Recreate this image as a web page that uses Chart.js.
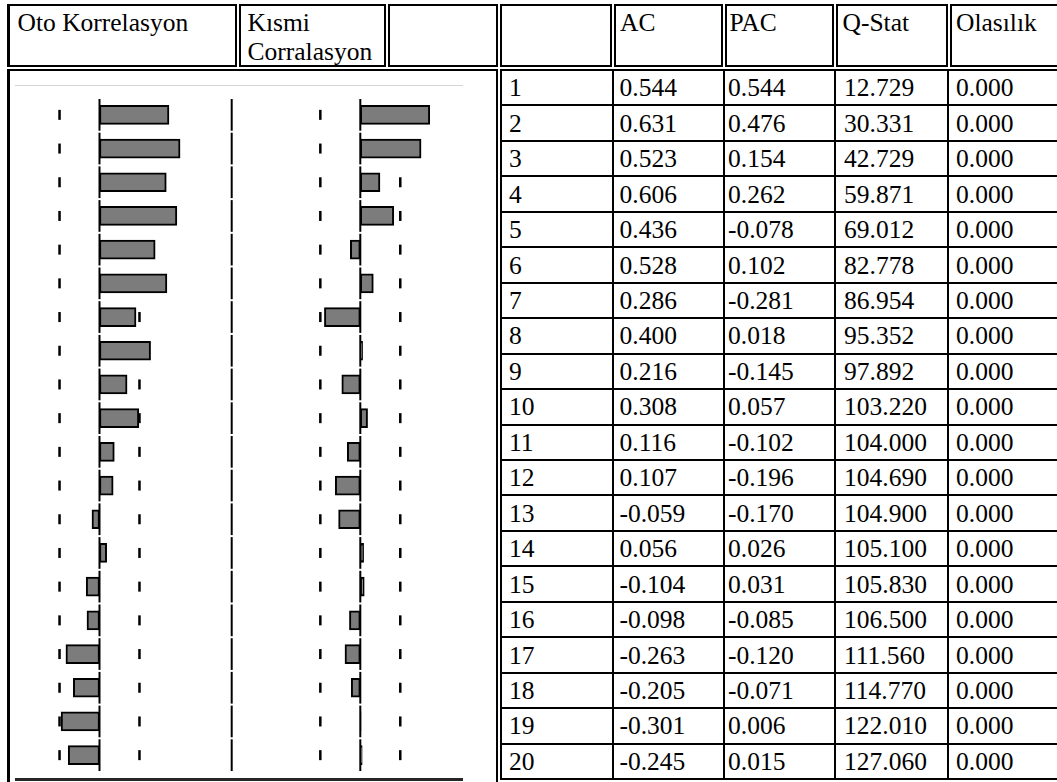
<!DOCTYPE html>
<html>
<head>
<meta charset="utf-8">
<title>Korelogram</title>
<script src="https://cdn.jsdelivr.net/npm/chart.js@4.4.1/dist/chart.umd.min.js"></script>
<style>
  html, body { margin: 0; padding: 0; background: #fff; }
  body {
    width: 1057px; height: 782px; position: relative; overflow: hidden;
    font-family: "Liberation Serif", "Times New Roman", serif;
    font-size: 25.5px; color: #000;
  }
  .box { position: absolute; box-sizing: border-box; border: 2px solid #000; }
  .hl { position: absolute; height: 2px; background: #000; }
  .vl { position: absolute; width: 2px; background: #000; }
  .head { position: absolute; white-space: nowrap; line-height: 29px; }
  .cell { position: absolute; white-space: nowrap; }
  #imgTop { position: absolute; left: 15px; top: 85px; width: 448px; height: 1px; background: #d4d4d4; }
  #imgBottom { position: absolute; left: 15px; top: 778px; width: 448px; height: 3px; background: #262626; }
  #corr { position: absolute; left: 15px; top: 98px; }
</style>
</head>
<body>

<!-- header cells (double ruled) -->
<div class="box" style="left:7px;top:4px;width:230px;height:63px;border-left-width:3px;"></div>
<div class="box" style="left:239px;top:4px;width:147px;height:63px;"></div>
<div class="box" style="left:388px;top:4px;width:110px;height:63px;"></div>
<div class="box" style="left:500px;top:4px;width:112px;height:63px;"></div>
<div class="box" style="left:614px;top:4px;width:109px;height:63px;"></div>
<div class="box" style="left:725px;top:4px;width:109px;height:63px;"></div>
<div class="box" style="left:836px;top:4px;width:112px;height:63px;"></div>
<div class="box" style="left:950px;top:4px;width:130px;height:63px;"></div>

<!-- body cell holding the correlogram -->
<div class="box" style="left:7px;top:69px;width:491px;height:760px;border-left-width:3px;"></div>
<div id="imgTop"></div>
<div id="imgBottom"></div>
<canvas id="corr" width="448" height="674"></canvas>

<div id="table"></div>

<script>
// Lags and correlogram statistics
const lags = ["1","2","3","4","5","6","7","8","9","10","11","12","13","14","15","16","17","18","19","20"];
const acValues  = [0.544, 0.631, 0.523, 0.606, 0.436, 0.528, 0.286, 0.400, 0.216, 0.308,
                   0.116, 0.107, -0.059, 0.056, -0.104, -0.098, -0.263, -0.205, -0.301, -0.245];
const pacValues = [0.544, 0.476, 0.154, 0.262, -0.078, 0.102, -0.281, 0.018, -0.145, 0.057,
                   -0.102, -0.196, -0.170, 0.026, 0.031, -0.085, -0.120, -0.071, 0.006, 0.015];
const qStats    = [12.729, 30.331, 42.729, 59.871, 69.012, 82.778, 86.954, 95.352, 97.892, 103.220,
                   104.000, 104.690, 104.900, 105.100, 105.830, 106.500, 111.560, 114.770, 122.010, 127.060];
const probs     = [0.000, 0.000, 0.000, 0.000, 0.000, 0.000, 0.000, 0.000, 0.000, 0.000,
                   0.000, 0.000, 0.000, 0.000, 0.000, 0.000, 0.000, 0.000, 0.000, 0.000];
// approximate 95% band (±2/√T)
const bound = 0.313;

const headLeft  = ["Oto Korrelasyon"];
const headMid   = ["Kısmi", "Corralasyon"];
const headRight = ["AC", "PAC", "Q-Stat", "Olasılık"];

// ---------- table text and rules ----------
const table = document.getElementById('table');
function add(cls, style, text) {
  const d = document.createElement('div');
  d.className = cls;
  d.setAttribute('style', style);
  if (text !== undefined) d.textContent = text;
  table.appendChild(d);
  return d;
}

add('head', 'left:17.5px;top:8px;', headLeft[0]);
add('head', 'left:247.5px;top:8px;', headMid[0]);
add('head', 'left:247.5px;top:37px;', headMid[1]);
const headX = [620, 729.5, 842.5, 956];
headRight.forEach((h, i) => add('head', `left:${headX[i]}px;top:8px;`, h));

const ROW_TOP = 70, ROW_H = 35.45;
const colLines = [500.7, 612.7, 724.3, 835, 947.7];
const textX = [509, 619.5, 728, 844, 956];

for (let i = 0; i <= lags.length; i++) {
  const y = ROW_TOP + i * ROW_H;
  add('hl', `left:499.7px;top:${(y - 1).toFixed(2)}px;width:600px;`);
}
colLines.forEach(x => add('vl', `left:${(x - 1).toFixed(2)}px;top:69px;height:${(lags.length * ROW_H + 2).toFixed(2)}px;`));

lags.forEach((lag, i) => {
  const y = ROW_TOP + i * ROW_H + 0.3;
  const row = [lag, acValues[i].toFixed(3), pacValues[i].toFixed(3), qStats[i].toFixed(3), probs[i].toFixed(3)];
  row.forEach((t, j) => add('cell', `left:${textX[j]}px;top:${y.toFixed(2)}px;height:${ROW_H}px;line-height:${ROW_H}px;`, t));
});

// ---------- correlogram bars ----------
const PX_PER_UNIT = 127.7;        // horizontal scale shared by both panels
const CANVAS_W = 448;
const ACF_ZERO = 84.5;            // zero line of the AC panel (canvas px)
const PACF_ZERO = 345.3;          // zero line of the PAC panel (canvas px)
const DIVIDER_X = 216.7;          // rule between the two panels

const guides = {
  id: 'guides',
  beforeDatasetsDraw(chart) {
    const { ctx, scales } = chart;
    const y = scales.y;
    ctx.save();
    ctx.fillStyle = '#000';
    lags.forEach((_, i) => {
      const cy = y.getPixelForValue(i);
      [scales.xa.getPixelForValue(-bound), scales.xa.getPixelForValue(bound),
       scales.xp.getPixelForValue(-bound), scales.xp.getPixelForValue(bound)].forEach(x => {
        ctx.fillRect(x - 1.25, cy - 5, 2.5, 10);
      });
    });
    ctx.restore();
  },
  afterDatasetsDraw(chart) {
    const { ctx, scales } = chart;
    const y = scales.y;
    const pitch = Math.abs(y.getPixelForValue(1) - y.getPixelForValue(0));
    ctx.save();
    ctx.strokeStyle = '#000';
    ctx.lineWidth = 2;
    const xs = [scales.xa.getPixelForValue(0), scales.xp.getPixelForValue(0), DIVIDER_X];
    lags.forEach((_, i) => {
      const cy = y.getPixelForValue(i);
      xs.forEach(x => {
        ctx.beginPath();
        ctx.moveTo(x, cy - pitch / 2 + 1);
        ctx.lineTo(x, cy + pitch / 2 - 1);
        ctx.stroke();
      });
    });
    ctx.restore();
  }
};

const barStyle = {
  backgroundColor: '#7c7c7c',
  borderColor: '#000',
  borderWidth: 2,
  borderSkipped: false,
  barThickness: 19,
  grouped: false
};

new Chart(document.getElementById('corr'), {
  type: 'bar',
  data: {
    labels: lags,
    datasets: [
      Object.assign({ label: 'AC', data: acValues, xAxisID: 'xa' }, barStyle),
      Object.assign({ label: 'PAC', data: pacValues, xAxisID: 'xp' }, barStyle)
    ]
  },
  options: {
    indexAxis: 'y',
    responsive: false,
    animation: false,
    events: [],
    layout: { padding: 0 },
    plugins: { legend: { display: false }, tooltip: { enabled: false } },
    scales: {
      y: { display: false, offset: true, grid: { display: false } },
      xa: { type: 'linear', axis: 'x', display: false,
            min: -ACF_ZERO / PX_PER_UNIT, max: (CANVAS_W - ACF_ZERO) / PX_PER_UNIT },
      xp: { type: 'linear', axis: 'x', display: false,
            min: -PACF_ZERO / PX_PER_UNIT, max: (CANVAS_W - PACF_ZERO) / PX_PER_UNIT }
    }
  },
  plugins: [guides]
});
</script>
</body>
</html>
